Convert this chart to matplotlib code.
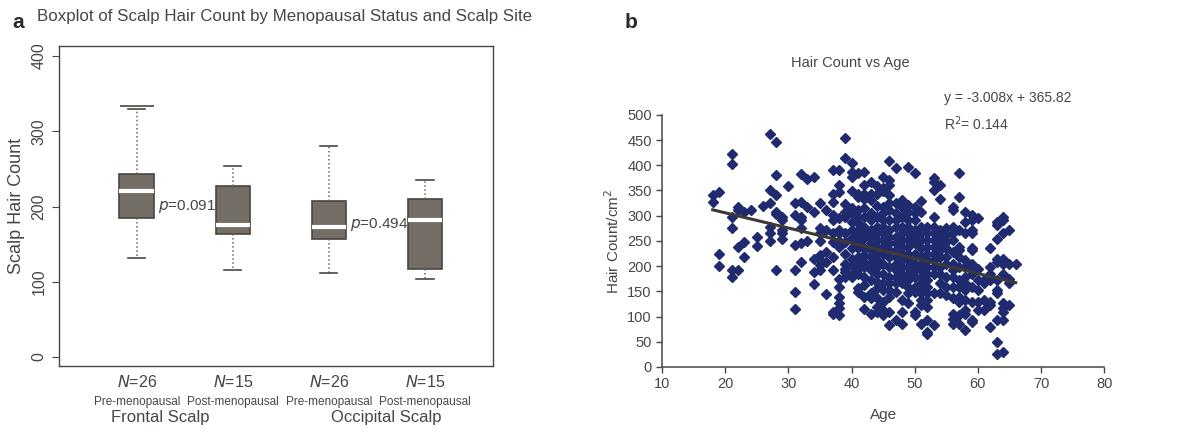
# Scalp hair count figure: boxplot (a) and hair count vs age scatter (b)
import matplotlib
matplotlib.use('Agg')
import matplotlib.pyplot as plt
import numpy as np

plt.rcParams['font.family'] = ['Liberation Sans', 'DejaVu Sans']

# ---- panel a data ----
groups = ['Pre-menopausal', 'Post-menopausal', 'Pre-menopausal', 'Post-menopausal']
n_labels = ['26', '15', '26', '15']
sites = ['Frontal Scalp', 'Occipital Scalp']
whisk_lo = [131, 116, 112, 104]
q1 = [185, 164, 157, 117]
medians = [220, 176, 173, 182]
q3 = [243, 227, 207, 210]
whisk_hi = [329, 254, 280, 235]
outliers = [[333], [], [], []]
p_values = ['0.091', '0.494']

# ---- panel b data: hair counts per age ----
ages = list(range(18, 67))
counts_by_age = {
    18: [342, 328],
    19: [346, 225, 200],
    21: [422, 402, 298, 275, 192, 179],
    22: [318, 311, 238, 193],
    23: [307, 247, 218],
    24: [311],
    25: [257, 240],
    26: [319],
    27: [462, 351, 326, 278, 265, 250],
    28: [447, 380, 341, 308, 304, 192],
    29: [297, 291, 272, 265, 254],
    30: [358],
    31: [326, 301, 242, 193, 149, 115],
    32: [383, 328, 298, 291, 275, 245, 209],
    33: [373, 318, 250],
    34: [377, 307, 214, 189, 164],
    35: [325, 275, 265, 250, 222, 212, 202, 192],
    36: [311, 272, 228, 209, 144],
    37: [391, 344, 328, 301, 291, 265, 248, 218, 193, 109, 106],
    38: [391, 361, 346, 295, 272, 265, 250, 238, 175, 159, 139, 126, 116, 103],
    39: [454, 414, 323, 308, 298, 265, 248, 225, 205, 195, 189, 179],
    40: [404, 387, 377, 348, 315, 305, 288, 272, 255, 235, 215, 202, 185, 179],
    41: [384, 344, 338, 311, 298, 285, 272, 265, 255, 245, 235, 219, 205, 195, 185, 156, 149],
    42: [387, 361, 344, 334, 315, 298, 278, 265, 255, 235, 222, 209, 199, 179, 162, 139, 114],
    43: [367, 344, 331, 305, 291, 272, 258, 245, 232, 219, 205, 192, 172, 146, 136, 106],
    44: [358, 344, 320, 298, 278, 265, 252, 238, 225, 212, 199, 185, 169, 156, 136, 119, 109],
    45: [377, 354, 348, 318, 305, 291, 278, 265, 252, 238, 225, 205, 185, 166, 152, 129, 113, 103],
    46: [409, 371, 361, 341, 325, 311, 291, 272, 258, 245, 232, 219, 199, 179, 166, 152, 139, 109, 83],
    47: [395, 325, 305, 291, 278, 258, 245, 232, 219, 205, 192, 179, 166, 149, 93],
    48: [331, 318, 298, 278, 265, 252, 238, 225, 212, 199, 185, 172, 166, 132, 109, 86],
    49: [397, 321, 308, 291, 278, 265, 252, 238, 225, 212, 199, 185, 172, 159, 146, 126],
    50: [385, 318, 305, 291, 272, 258, 245, 225, 205, 192, 179, 159, 149, 109, 103],
    51: [329, 308, 278, 265, 252, 235, 219, 205, 192, 179, 166, 152, 146, 132, 123, 86],
    52: [278, 265, 252, 238, 225, 212, 199, 185, 172, 159, 146, 132, 119, 93, 70, 66],
    53: [374, 367, 351, 298, 278, 265, 252, 238, 225, 212, 199, 185, 146, 83],
    54: [361, 334, 272, 258, 245, 232, 219, 199, 185, 166, 146],
    55: [275, 262, 248, 235, 219, 205, 179, 159, 142],
    56: [318, 311, 278, 265, 252, 228, 205, 192, 179, 159, 136, 106, 96, 86],
    57: [385, 338, 272, 238, 232, 219, 199, 172, 159, 139, 129, 103, 86],
    58: [308, 288, 265, 212, 199, 179, 166, 152, 132, 113, 106, 73],
    59: [301, 291, 272, 265, 235, 232, 205, 195, 185, 159, 129, 93, 89],
    60: [295, 195, 172, 152, 129, 113],
    61: [172, 166, 132, 113],
    62: [235, 199, 185, 172, 129, 123, 79],
    63: [288, 281, 253, 215, 209, 172, 152, 146, 93, 50, 26],
    64: [298, 291, 265, 215, 205, 185, 126, 116, 109, 93, 30],
    65: [272, 205, 175, 166, 123],
    66: [205],
}
slope = -3.008
intercept = 365.82
r_squared = 0.144

text_col = '#4a4641'
box_fill = '#756e67'
box_edge = '#4a4540'
dot_col = '#1f2b6e'

fig = plt.figure(figsize=(12.04, 4.4), dpi=100)

# ================= panel a =================
ax1 = fig.add_axes([0.049, 0.168, 0.3605, 0.727])
stats = []
for i in range(4):
    stats.append(dict(med=medians[i], q1=q1[i], q3=q3[i],
                      whislo=whisk_lo[i], whishi=whisk_hi[i], fliers=outliers[i]))
pos = [1, 2, 3, 4]
ax1.bxp(stats, positions=pos, widths=0.36, patch_artist=True,
        boxprops=dict(facecolor=box_fill, edgecolor=box_edge, linewidth=1.2),
        medianprops=dict(color='white', linewidth=3),
        whiskerprops=dict(color='#6a6560', linestyle=':', linewidth=1.1),
        capprops=dict(color=box_edge, linewidth=1.2),
        flierprops=dict(marker='_', markersize=25, markeredgecolor=box_edge,
                        markeredgewidth=1.2))
ax1.set_xlim(0.19, 4.71)
ax1.set_ylim(-12, 413)
ax1.set_yticks([0, 100, 200, 300, 400])
ax1.set_yticklabels(['0', '100', '200', '300', '400'], rotation=90, va='center',
                    fontsize=11.5, color=text_col)
ax1.tick_params(axis='y', length=5, color=text_col, pad=4)
ax1.set_xticks([])
for s in ax1.spines.values():
    s.set_color(text_col)
    s.set_linewidth(1.0)
ax1.set_ylabel('Scalp Hair Count', fontsize=13, color=text_col, labelpad=5)

ax1.text(1.22, 200, '$p$=' + p_values[0], fontsize=11, color=text_col, va='center', ha='left')
ax1.text(3.22, 176, '$p$=' + p_values[1], fontsize=11, color=text_col, va='center', ha='left')

for i, x in enumerate(pos):
    ax1.text(x, -0.026, '$N$=' + n_labels[i], transform=ax1.get_xaxis_transform(),
             ha='center', va='top', fontsize=11.5, color=text_col)
    ax1.text(x, -0.092, groups[i], transform=ax1.get_xaxis_transform(),
             ha='center', va='top', fontsize=8.5, color=text_col)
ax1.text(1.24, -0.138, sites[0], transform=ax1.get_xaxis_transform(),
         ha='center', va='top', fontsize=12, color=text_col)
ax1.text(3.6, -0.138, sites[1], transform=ax1.get_xaxis_transform(),
         ha='center', va='top', fontsize=12, color=text_col)

fig.text(0.010, 0.950, 'a', fontsize=15, fontweight='bold', color='#2a2a2a', va='center')
fig.text(0.031, 0.962, 'Boxplot of Scalp Hair Count by Menopausal Status and Scalp Site',
         fontsize=12.2, color=text_col, va='center')

# ================= panel b =================
ax2 = fig.add_axes([0.55, 0.166, 0.367, 0.573])
xs, ys = [], []
for a in ages:
    for v in counts_by_age.get(a, []):
        xs.append(a)
        ys.append(v)
ax2.plot(xs, ys, linestyle='none', marker='D', markersize=5,
         color=dot_col, markeredgecolor=dot_col, zorder=2)
fit_x = np.array([min(xs), max(xs)])
ax2.plot(fit_x, slope * fit_x + intercept, color='#3d3a36', linewidth=2.2, zorder=3)

ax2.set_xlim(10, 80)
ax2.set_ylim(0, 500)
ax2.set_xticks(range(10, 81, 10))
ax2.set_yticks(range(0, 501, 50))
ax2.tick_params(labelsize=10.5, colors=text_col, length=4, width=1)
for k in ['top', 'right']:
    ax2.spines[k].set_visible(False)
for k in ['left', 'bottom']:
    ax2.spines[k].set_color(text_col)
    ax2.spines[k].set_linewidth(1.1)
ax2.set_xlabel('Age', fontsize=11, color=text_col, labelpad=12)
ax2.set_ylabel('Hair Count/cm$^2$', fontsize=11, color=text_col, labelpad=4)
ax2.text(54.7, 534, 'y = -3.008x + 365.82', fontsize=10, color=text_col,
         va='center', clip_on=False)
ax2.text(54.7, 482, 'R$^2$= %.3f' % r_squared, fontsize=10, color=text_col,
         va='center', clip_on=False)

fig.text(0.519, 0.948, 'b', fontsize=15, fontweight='bold', color='#2a2a2a', va='center')
fig.text(0.706, 0.857, 'Hair Count vs Age', fontsize=10.5, color=text_col,
         ha='center', va='center')

fig.savefig('out.png', dpi=100)
